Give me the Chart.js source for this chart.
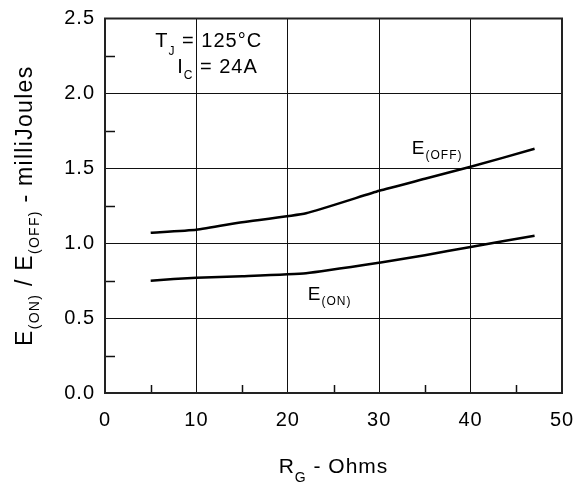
<!DOCTYPE html>
<html>
<head>
<meta charset="utf-8">
<script src="https://cdn.jsdelivr.net/npm/chart.js@4.4.1/dist/chart.umd.min.js"></script>
<style>
  html, body { margin: 0; padding: 0; background: #fff; }
</style>
</head>
<body>
<canvas id="energyChart" width="577" height="485"></canvas>
<script>
// gate resistance (Ohms) and switching energies (mJ)
const rgOhms = [5, 10, 15, 22, 30, 35, 40, 47];
const eOff = [1.07, 1.09, 1.14, 1.20, 1.35, 1.43, 1.51, 1.63];
const eOn = [0.75, 0.77, 0.78, 0.80, 0.87, 0.92, 0.975, 1.05];

const FONT = '"Liberation Sans", Arial, sans-serif';

// text with a subscript: [main, sub, rest]
function drawSubText(ctx, x, y, parts, size, subSize, drop, align) {
    const [main, sub, rest] = parts;
    ctx.font = size + 'px ' + FONT;
    const w1 = ctx.measureText(main).width;
    const w3 = ctx.measureText(rest).width;
    ctx.font = subSize + 'px ' + FONT;
    const w2 = ctx.measureText(sub).width;
    let x0 = x;
    if (align === 'center') x0 = x - (w1 + w2 + w3) / 2;
    ctx.textAlign = 'left';
    ctx.textBaseline = 'alphabetic';
    ctx.font = size + 'px ' + FONT;
    ctx.fillText(main, x0, y);
    ctx.font = subSize + 'px ' + FONT;
    ctx.fillText(sub, x0 + w1, y + drop);
    ctx.font = size + 'px ' + FONT;
    ctx.fillText(rest, x0 + w1 + w2, y);
}

const decorations = {
    id: 'decorations',
    beforeDraw(chart) {
        // the original lettering runs a little wider than Arial
        chart.ctx.letterSpacing = '1px';
    },
    afterDraw(chart) {
        const { ctx, chartArea: a, scales: { x, y } } = chart;
        ctx.save();
        ctx.strokeStyle = '#111';
        ctx.lineWidth = 1.5;
        // minor ticks on the left and bottom axes
        for (let v = 0.25; v < 2.5; v += 0.5) {
            const py = Math.round(y.getPixelForValue(v)) + 0.5;
            ctx.beginPath(); ctx.moveTo(a.left, py); ctx.lineTo(a.left + 10, py); ctx.stroke();
        }
        for (let v = 5; v < 50; v += 10) {
            const px = Math.round(x.getPixelForValue(v)) + 0.5;
            ctx.beginPath(); ctx.moveTo(px, a.bottom); ctx.lineTo(px, a.bottom - 8); ctx.stroke();
        }
        // heavier frame
        ctx.lineWidth = 2;
        ctx.strokeStyle = '#222';
        ctx.strokeRect(a.left, a.top, a.right - a.left, a.bottom - a.top);

        ctx.fillStyle = '#000';
        // curve labels and conditions
        drawSubText(ctx, x.getPixelForValue(33.57), y.getPixelForValue(1.593), ['E', '(OFF)', ''], 19, 12, 5);
        drawSubText(ctx, x.getPixelForValue(22.19), y.getPixelForValue(0.619), ['E', '(ON)', ''], 19, 12, 5);
        drawSubText(ctx, x.getPixelForValue(5.5), y.getPixelForValue(2.312), ['T', 'J', ' = 125°C'], 20, 12, 8);
        drawSubText(ctx, x.getPixelForValue(7.9), y.getPixelForValue(2.134), ['I', 'C', ' = 24A'], 20, 12, 6);

        // axis titles
        drawSubText(ctx, (a.left + a.right) / 2, 473, ['R', 'G', ' - Ohms'], 21, 14, 9, 'center');
        ctx.translate(31.5, (a.top + a.bottom) / 2);
        ctx.rotate(-Math.PI / 2);
        ctx.letterSpacing = '1.3px';
        const p1 = 'E', s1 = '(ON)', p2 = ' / E', s2 = '(OFF)', p3 = ' - milliJoules';
        const wBig = t => { ctx.font = '23px ' + FONT; return ctx.measureText(t).width; };
        const wSmall = t => { ctx.font = '14px ' + FONT; return ctx.measureText(t).width; };
        const total = wBig(p1) + wSmall(s1) + wBig(p2) + wSmall(s2) + wBig(p3);
        let cx = -total / 2;
        ctx.textAlign = 'left';
        ctx.textBaseline = 'alphabetic';
        ctx.font = '23px ' + FONT; ctx.fillText(p1, cx, 0); cx += wBig(p1);
        ctx.font = '14px ' + FONT; ctx.fillText(s1, cx, 7); cx += wSmall(s1);
        ctx.font = '23px ' + FONT; ctx.fillText(p2, cx, 0); cx += wBig(p2);
        ctx.font = '14px ' + FONT; ctx.fillText(s2, cx, 7); cx += wSmall(s2);
        ctx.font = '23px ' + FONT; ctx.fillText(p3, cx, 0);
        ctx.restore();
        ctx.letterSpacing = '0px';
    }
};

const ctx = document.getElementById('energyChart').getContext('2d');

new Chart(ctx, {
    type: 'line',
    data: {
        datasets: [{
            label: 'E(OFF)',
            data: rgOhms.map((r, i) => ({ x: r, y: eOff[i] })),
            borderColor: '#000',
            borderWidth: 2.5,
            pointRadius: 0,
            tension: 0.15,
            fill: false
        }, {
            label: 'E(ON)',
            data: rgOhms.map((r, i) => ({ x: r, y: eOn[i] })),
            borderColor: '#000',
            borderWidth: 2.5,
            pointRadius: 0,
            tension: 0.15,
            fill: false
        }]
    },
    options: {
        responsive: false,
        animation: false,
        devicePixelRatio: 1,
        layout: { padding: { left: 0, right: 15, top: 18.5, bottom: 0 } },
        plugins: {
            legend: { display: false },
            tooltip: { enabled: false }
        },
        scales: {
            x: {
                type: 'linear',
                min: 0,
                max: 50,
                afterFit: s => { s.height = 92; s.paddingLeft = 0; s.paddingRight = 0; },
                ticks: {
                    stepSize: 10,
                    color: '#000',
                    padding: 15,
                    font: { family: FONT, size: 20 }
                },
                grid: { color: '#111', lineWidth: 1, drawTicks: false },
                border: { color: '#222', width: 2 }
            },
            y: {
                min: 0,
                max: 2.5,
                afterFit: s => { s.width = 105; s.paddingTop = 0; s.paddingBottom = 0; },
                ticks: {
                    stepSize: 0.5,
                    color: '#000',
                    padding: 10,
                    font: { family: FONT, size: 20 },
                    callback: v => v.toFixed(1)
                },
                grid: { color: '#111', lineWidth: 1, drawTicks: false },
                border: { color: '#222', width: 2 }
            }
        }
    },
    plugins: [decorations]
});
</script>
</body>
</html>
